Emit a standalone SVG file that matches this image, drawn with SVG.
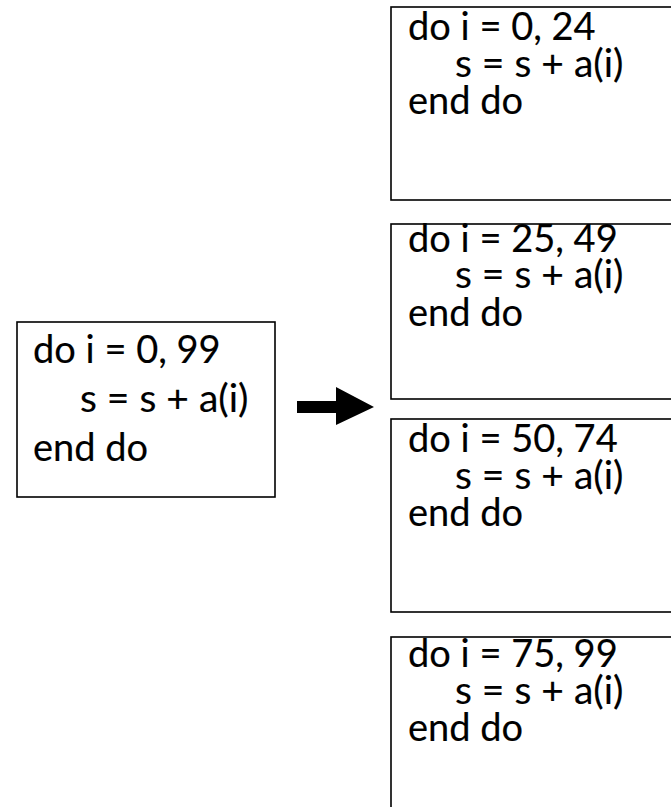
<svg xmlns="http://www.w3.org/2000/svg" width="671" height="807" viewBox="0 0 671 807">
<style>
.box{fill:#fff;stroke:#000;stroke-width:1.6}
text{font-family:Lato,"Liberation Sans",sans-serif;font-size:38px;fill:#000;stroke:#000;stroke-width:0.15}
text.body{font-size:39px}
</style>
<rect width="671" height="807" fill="#fff"/>
<g id="source">
<rect class="box" x="17" y="322" width="258" height="175"/>
<text x="33" y="363">do i = 0, 99</text>
<text class="body" x="80" y="412">s = s + a(i)</text>
<text x="33" y="461">end do</text>
</g>
<g id="connectors">
<polygon points="297,401 336,401 336,387 374,407 336,425 336,413 297,413" fill="#000"/>
</g>
<g id="chunk1">
<rect class="box" x="391" y="7" width="300" height="193"/>
<text x="408" y="40">do i = 0, 24</text>
<text class="body" x="455" y="77">s = s + a(i)</text>
<text x="408" y="114">end do</text>
</g>
<g id="chunk2">
<rect class="box" x="391" y="224" width="300" height="175"/>
<text x="408" y="252">do i = 25, 49</text>
<text class="body" x="455" y="288">s = s + a(i)</text>
<text x="408" y="326">end do</text>
</g>
<g id="chunk3">
<rect class="box" x="391" y="419" width="300" height="193"/>
<text x="408" y="452">do i = 50, 74</text>
<text class="body" x="455" y="489">s = s + a(i)</text>
<text x="408" y="526">end do</text>
</g>
<g id="chunk4">
<rect class="box" x="391" y="637" width="300" height="200"/>
<text x="408" y="667">do i = 75, 99</text>
<text class="body" x="455" y="704">s = s + a(i)</text>
<text x="408" y="741">end do</text>
</g>
</svg>
